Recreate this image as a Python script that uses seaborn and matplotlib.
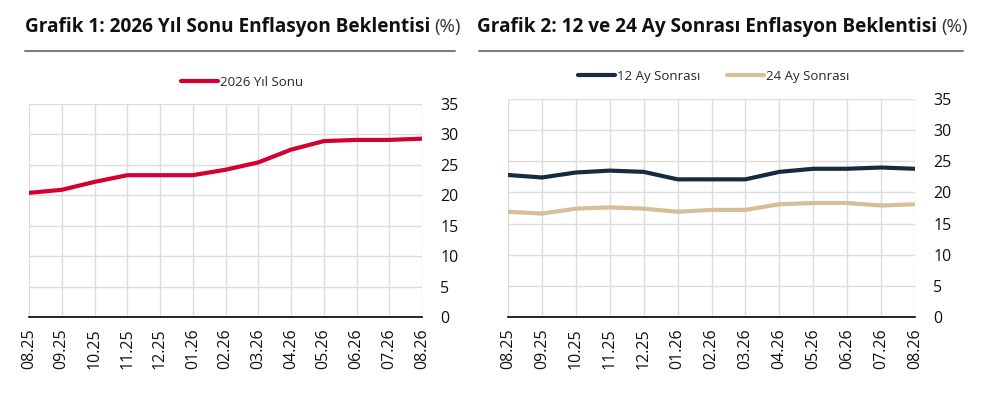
import pandas as pd
import numpy as np
import matplotlib
matplotlib.use("Agg")
import matplotlib.pyplot as plt
import seaborn as sns

months = ['08.25', '09.25', '10.25', '11.25', '12.25', '01.26', '02.26',
          '03.26', '04.26', '05.26', '06.26', '07.26', '08.26']
year_end_2026 = [20.4, 20.9, 22.2, 23.3, 23.3, 23.3, 24.2,
                 25.4, 27.5, 28.9, 29.1, 29.1, 29.3]
ahead_12 = [22.8, 22.4, 23.2, 23.5, 23.3, 22.1, 22.1,
            22.1, 23.3, 23.8, 23.8, 24.0, 23.8]
ahead_24 = [16.9, 16.6, 17.4, 17.6, 17.4, 16.9, 17.2,
            17.2, 18.1, 18.3, 18.3, 17.9, 18.1]
y_ticks = [0, 5, 10, 15, 20, 25, 30, 35]

red = "#D50032"
navy = "#172A3F"
tan = "#D6BE96"
grid_c = "#DCDCDC"

sns.set_style("white")
plt.rcParams['font.family'] = ['Open Sans', 'DejaVu Sans']

df1 = pd.DataFrame({'ay': months, 'deger': year_end_2026, 'seri': '2026 Yıl Sonu'})
df2 = pd.concat([
    pd.DataFrame({'ay': months, 'deger': ahead_12, 'seri': '12 Ay Sonrası'}),
    pd.DataFrame({'ay': months, 'deger': ahead_24, 'seri': '24 Ay Sonrası'}),
])

fig = plt.figure(figsize=(10, 4), dpi=100)
ax1 = fig.add_axes([0.029, 0.2075, 0.393, 0.5325])
ax2 = fig.add_axes([0.508, 0.2075, 0.407, 0.545])

sns.lineplot(data=df1, x='ay', y='deger', hue='seri', palette=[red],
             linewidth=3, ax=ax1, sort=False)
sns.lineplot(data=df2, x='ay', y='deger', hue='seri', palette=[navy, tan],
             linewidth=3, ax=ax2, sort=False)


def style_axis(ax):
    ax.set_xlim(0, len(months) - 1)
    ax.set_ylim(0, 35)
    ax.set_yticks(y_ticks)
    ax.yaxis.tick_right()
    ax.tick_params(axis='y', length=0, pad=13, labelsize=11.5, colors='#111111')
    ax.tick_params(axis='x', direction='out', length=5, width=1.2,
                   color='black', labelsize=11.5, rotation=90, pad=3,
                   colors='#111111')
    ax.grid(True, color=grid_c, linewidth=1)
    ax.set_axisbelow(True)
    for s in ['top', 'left', 'right']:
        ax.spines[s].set_visible(False)
    ax.spines['bottom'].set_color('black')
    ax.spines['bottom'].set_linewidth(1.2)
    ax.spines['bottom'].set_zorder(5)
    ax.set_xlabel('')
    ax.set_ylabel('')


style_axis(ax1)
style_axis(ax2)

ax1.legend(loc='center', bbox_to_anchor=(0.542, 1.103), frameon=False,
           fontsize=9.5, handlelength=2.8, handletextpad=0.15)
ax2.legend(loc='center', bbox_to_anchor=(0.506, 1.105), frameon=False,
           fontsize=9.5, ncol=2, handlelength=2.8, handletextpad=0.15,
           columnspacing=2.0)

# titles with normal-weight "(%)"
renderer = fig.canvas.get_renderer()
titles = [("Grafik 1: 2026 Yıl Sonu Enflasyon Beklentisi", 0.025),
          ("Grafik 2: 12 ve 24 Ay Sonrası Enflasyon Beklentisi", 0.477)]
for txt, x in titles:
    t = fig.text(x, 1 - 27 / 400, txt, fontsize=13.7, fontweight='bold',
                 va='center', ha='left', color='#111111')
    bb = t.get_window_extent(renderer)
    fig.text(bb.x1 / 1000 + 0.004, 1 - 27 / 400, "(%)", fontsize=13.5,
             va='center', ha='left', color='#333333')

fig.add_artist(plt.Line2D([0.025, 0.455], [1 - 50.5 / 400] * 2,
                          color='#7F7F7F', linewidth=1.5))
fig.add_artist(plt.Line2D([0.479, 0.963], [1 - 50.5 / 400] * 2,
                          color='#7F7F7F', linewidth=1.5))

fig.savefig("out.png", dpi=100)
